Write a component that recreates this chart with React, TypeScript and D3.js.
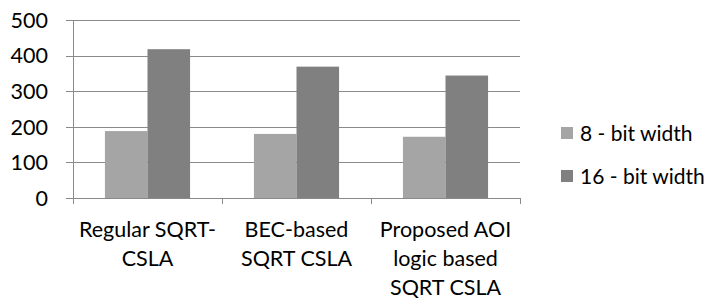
import { useEffect, useRef } from "react";
import * as d3 from "d3";

const categoryLines = [
  ["Regular SQRT-", "CSLA"],
  ["BEC-based", "SQRT CSLA"],
  ["Proposed AOI", "logic based", "SQRT CSLA"],
];
const seriesNames = ["8 - bit width", "16 - bit width"];
const bit8 = [188, 180, 172];
const bit16 = [418, 369, 344];
const yTicks = [0, 100, 200, 300, 400, 500];

const colors = ["#a5a5a5", "#808080"];
const gridColor = "#8a8a8a";
const font = "Lato, 'Open Sans', sans-serif";

export default function App() {
  const ref = useRef<SVGSVGElement>(null);

  useEffect(() => {
    const width = 718,
      height = 299;
    const svg = d3.select(ref.current).attr("width", width).attr("height", height);
    svg.selectAll("*").remove();

    const cats = categoryLines.map((l) => l.join(" "));
    const x = d3.scaleBand().domain(cats).range([73, 520]);
    const x1 = d3
      .scaleBand()
      .domain(seriesNames)
      .range([0, x.bandwidth()])
      .paddingInner(0)
      .paddingOuter(0.75);
    const y = d3.scaleLinear().domain([0, 500]).range([198, 20]);

    // gridlines + left ticks
    svg
      .selectAll("line.grid")
      .data(yTicks)
      .enter()
      .append("line")
      .attr("x1", 66)
      .attr("x2", 520)
      .attr("y1", (d) => Math.round(y(d)) + 0.5)
      .attr("y2", (d) => Math.round(y(d)) + 0.5)
      .attr("stroke", gridColor)
      .attr("stroke-width", 1);

    svg
      .selectAll("text.ytick")
      .data(yTicks)
      .enter()
      .append("text")
      .attr("x", 48)
      .attr("y", (d) => y(d))
      .attr("dy", "0.36em")
      .attr("text-anchor", "end")
      .style("font-family", font)
      .style("font-size", "21.5px")
      .attr("fill", "#000")
      .text((d) => d);

    // bars
    const data = [bit8, bit16];
    data.forEach((vals, s) => {
      svg
        .selectAll("rect.s" + s)
        .data(vals)
        .enter()
        .append("rect")
        .attr("x", (d, i) => x(cats[i])! + x1(seriesNames[s])!)
        .attr("width", x1.bandwidth())
        .attr("y", (d) => y(d))
        .attr("height", (d) => y(0) - y(d))
        .attr("fill", colors[s]);
    });

    // axes
    svg
      .append("line")
      .attr("x1", 73.5)
      .attr("x2", 73.5)
      .attr("y1", y(500))
      .attr("y2", y(0))
      .attr("stroke", gridColor);
    svg
      .append("line")
      .attr("x1", 66)
      .attr("x2", 520)
      .attr("y1", Math.round(y(0)) + 0.5)
      .attr("y2", Math.round(y(0)) + 0.5)
      .attr("stroke", gridColor);
    const edges = cats.map((c) => x(c)!).concat([520]);
    svg
      .selectAll("line.xtick")
      .data(edges)
      .enter()
      .append("line")
      .attr("x1", (d) => Math.round(d) + 0.5)
      .attr("x2", (d) => Math.round(d) + 0.5)
      .attr("y1", y(0))
      .attr("y2", y(0) + 6)
      .attr("stroke", gridColor);

    // category labels
    categoryLines.forEach((lines, i) => {
      svg
        .append("text")
        .attr("text-anchor", "middle")
        .style("font-family", font)
        .style("font-size", "21.5px")
        .attr("fill", "#000")
        .selectAll("tspan")
        .data(lines)
        .enter()
        .append("tspan")
        .attr("x", x(cats[i])! + x.bandwidth() / 2)
        .attr("y", (d, j) => 237 + j * 29)
        .text((d) => d);
    });

    // legend
    const legend = svg
      .selectAll("g.legend")
      .data(seriesNames)
      .enter()
      .append("g")
      .attr("transform", (d, i) => "translate(561," + (127 + i * 43) + ")");
    legend
      .append("rect")
      .attr("width", 12)
      .attr("height", 12)
      .attr("fill", (d, i) => colors[i]);
    legend
      .append("text")
      .attr("x", 19)
      .attr("y", 6)
      .attr("dy", "0.36em")
      .style("font-family", font)
      .style("font-size", "21px")
      .attr("fill", "#000")
      .text((d) => d);
  }, []);

  return <svg ref={ref} style={{ position: "absolute", left: 0, top: 0 }}></svg>;
}
